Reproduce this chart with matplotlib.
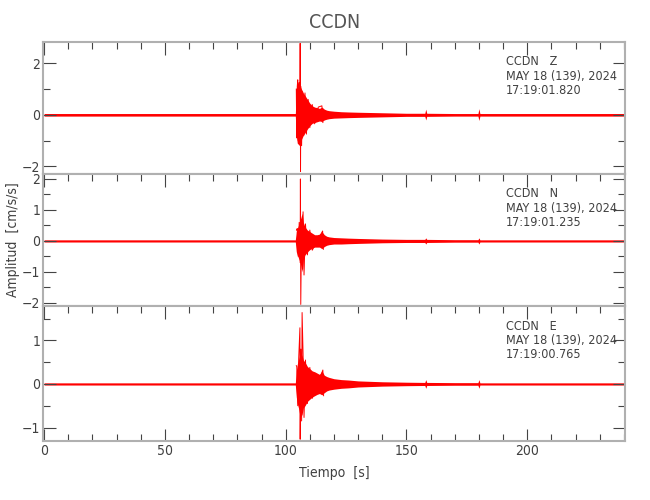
import numpy as np
import matplotlib
matplotlib.use("Agg")
import matplotlib.pyplot as plt
from matplotlib.ticker import MultipleLocator

plt.rcParams['font.family'] = ['DejaVu Sans']
plt.rcParams['font.stretch'] = 'condensed'

# --- datos ---------------------------------------------------------------
station = "CCDN"
components = ["Z", "N", "E"]
fecha = "MAY 18 (139), 2024"
horas = ["17:19:01.820", "17:19:01.235", "17:19:00.765"]

# envolvente (tiempo en s, limite superior / inferior en cm/s/s)
t_env = [0, 30, 60, 90, 104.0, 104.4, 104.8, 105.3, 105.8, 106.3, 106.8, 107.3,
         108, 109, 110, 111, 112, 113, 114, 115, 116, 117, 118, 120, 123, 126,
         130, 135, 140, 150, 157.6, 158.0, 158.4, 170, 179.6, 180.0, 180.4,
         200, 220, 240]

z_up = [0.05, 0.05, 0.05, 0.05, 0.05, 0.8, 1.3, 1.2, 1.15, 1.05, 0.95, 0.85,
        0.75, 0.6, 0.45, 0.35, 0.3, 0.28, 0.25, 0.3, 0.22, 0.18, 0.16, 0.14,
        0.12, 0.11, 0.1, 0.09, 0.08, 0.06, 0.06, 0.22, 0.06, 0.05, 0.05, 0.24,
        0.05, 0.05, 0.05, 0.05]
z_lo = [-0.05, -0.05, -0.05, -0.05, -0.05, -0.8, -1.1, -1.15, -1.2, -1.0, -0.9,
        -0.8, -0.7, -0.55, -0.42, -0.33, -0.3, -0.27, -0.24, -0.26, -0.2, -0.17,
        -0.15, -0.13, -0.12, -0.11, -0.1, -0.09, -0.08, -0.06, -0.06, -0.2,
        -0.06, -0.05, -0.05, -0.22, -0.05, -0.05, -0.05, -0.05]

n_up = [0.035, 0.035, 0.035, 0.035, 0.035, 0.3, 0.4, 0.5, 0.6, 0.75, 0.9, 0.6,
        0.45, 0.35, 0.3, 0.25, 0.2, 0.2, 0.22, 0.3, 0.2, 0.15, 0.13, 0.11,
        0.1, 0.09, 0.08, 0.07, 0.06, 0.05, 0.05, 0.1, 0.05, 0.04, 0.04, 0.1,
        0.035, 0.035, 0.035, 0.035]
n_lo = [-0.035, -0.035, -0.035, -0.035, -0.035, -0.35, -0.45, -0.55, -0.65, -0.8,
        -1.0, -0.6, -0.45, -0.35, -0.28, -0.23, -0.2, -0.2, -0.2, -0.25, -0.18,
        -0.14, -0.12, -0.1, -0.1, -0.09, -0.08, -0.07, -0.06, -0.05, -0.05,
        -0.1, -0.05, -0.04, -0.04, -0.1, -0.035, -0.035, -0.035, -0.035]

e_up = [0.025, 0.025, 0.025, 0.025, 0.025, 0.3, 0.45, 0.55, 0.65, 0.7, 0.65, 0.55,
        0.5, 0.4, 0.35, 0.3, 0.28, 0.25, 0.22, 0.3, 0.2, 0.17, 0.15, 0.12,
        0.1, 0.09, 0.07, 0.06, 0.05, 0.04, 0.035, 0.1, 0.035, 0.03, 0.03, 0.1,
        0.025, 0.025, 0.025, 0.025]
e_lo = [-0.025, -0.025, -0.025, -0.025, -0.025, -0.3, -0.45, -0.55, -0.7, -0.75,
        -0.7, -0.55, -0.5, -0.4, -0.35, -0.3, -0.27, -0.24, -0.22, -0.25, -0.2,
        -0.16, -0.14, -0.12, -0.1, -0.09, -0.07, -0.06, -0.05, -0.04, -0.035,
        -0.1, -0.035, -0.03, -0.03, -0.1, -0.025, -0.025, -0.025, -0.025]

# picos principales (zigzag)
z_tpk = [104.4, 104.6, 104.8, 105.0, 105.2, 105.5, 105.8, 106.0, 106.15, 106.3,
         106.6, 107.0, 107.5, 108.0, 108.6, 109.3, 110.0, 111.0, 112.0, 113.5,
         115.0, 115.4]
z_vpk = [1.0, -0.9, 1.1, 1.36, -1.0, 1.25, -1.1, 2.78, -2.2, 1.1, -1.2, 0.9,
         -0.8, 0.85, -0.75, 0.6, -0.5, 0.4, -0.35, 0.3, 0.35, -0.3]

n_tpk = [104.5, 104.8, 105.2, 105.6, 106.0, 106.1, 106.25, 106.6, 107.0, 107.2,
         107.6, 108.2, 109.0, 110.0, 111.0, 115.3, 115.6]
n_vpk = [0.35, 0.4, -0.5, 0.6, -0.7, 2.0, -2.05, 0.7, -0.9, 0.94, -1.1, 0.55,
         -0.45, 0.35, -0.3, 0.32, -0.27]

e_tpk = [104.4, 104.6, 105.0, 105.4, 105.9, 106.0, 106.3, 106.6, 106.8, 107.2,
         107.6, 108.2, 109.0, 110.0, 111.0, 115.4, 115.7]
e_vpk = [0.42, 0.4, -0.5, 0.6, 1.29, -1.27, 0.8, -0.85, 1.64, 0.7, -0.77, 0.55,
         -0.45, 0.38, -0.33, 0.32, -0.27]

ylims = [(-2.3, 2.83), (-2.1, 2.16), (-1.31, 1.79)]
ymajor = [2, 1, 1]
yminor = [1, 0.5, 0.5]

ups = [z_up, n_up, e_up]
los = [z_lo, n_lo, e_lo]
tpks = [z_tpk, n_tpk, e_tpk]
vpks = [z_vpk, n_vpk, e_vpk]

# --- figura ---------------------------------------------------------------
fig = plt.figure(figsize=(6.5, 5), dpi=100)
boxes = [[0.066, 0.652, 0.896, 0.264],
         [0.066, 0.388, 0.896, 0.264],
         [0.066, 0.118, 0.896, 0.270]]

txt = '#404040'
for i in range(3):
    ax = fig.add_axes(boxes[i])
    ax.fill_between(t_env, los[i], ups[i], color='red', linewidth=0)
    ax.plot(tpks[i], vpks[i], color='red', linewidth=0.7)
    ax.set_xlim(-0.5, 240.6)
    ax.set_ylim(*ylims[i])
    ax.xaxis.set_major_locator(MultipleLocator(50))
    ax.xaxis.set_minor_locator(MultipleLocator(10))
    ax.yaxis.set_major_locator(MultipleLocator(ymajor[i]))
    ax.yaxis.set_minor_locator(MultipleLocator(yminor[i]))
    ax.tick_params(which='both', direction='in', top=True, right=True,
                   bottom=(i == 2), labelbottom=(i == 2), colors='#444444',
                   labelcolor=txt, labelsize=10, width=0.8, pad=2)
    ax.tick_params(which='major', length=9)
    ax.tick_params(which='minor', length=5)
    for s in ax.spines.values():
        s.set_color('#b0b0b0')
        s.set_linewidth(1.5)
    ax.text(0.795, 0.9, f"{station}   {components[i]}\n{fecha}\n{horas[i]}",
            transform=ax.transAxes, va='top', ha='left', fontsize=9,
            color=txt, linespacing=1.15)
    if i == 0:
        ax.set_title(station, fontsize=14, color='#555555', pad=10)
    if i == 1:
        ax.set_ylabel("Amplitud  [cm/s/s]", fontsize=10, color=txt)
        ax.yaxis.set_label_coords(-0.04, 0.5)
    if i == 2:
        ax.set_xlabel("Tiempo  [s]", fontsize=10, color=txt, labelpad=6)

fig.savefig("out.png", dpi=100)
